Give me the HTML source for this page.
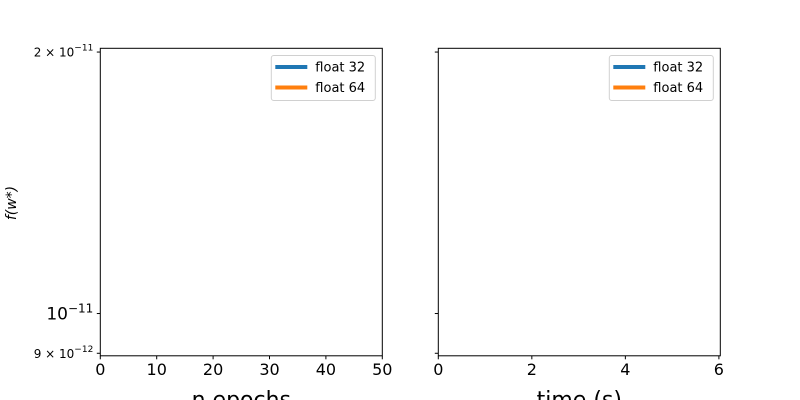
<!DOCTYPE html>
<html><head><meta charset="utf-8"><style>
html,body{margin:0;padding:0;background:#fff;width:800px;height:400px;overflow:hidden}
svg text{font-family:"DejaVu Sans","Liberation Sans",sans-serif;fill:#000}
</style></head><body>
<svg id="chart" width="800" height="400" xmlns="http://www.w3.org/2000/svg"></svg>
<script>
const leftXTicks = [0, 10, 20, 30, 40, 50];
const rightXTicks = [0, 2, 4, 6];
const yTicks = [2e-11, 1e-11, 9e-12];
const yTickLabels = [["2", "−11"], ["10", "−11"], ["9", "−12"]];
const seriesNames = ["float 32", "float 64"];
const seriesColors = ["#1f77b4", "#ff7f0e"];
const float32Epochs = [];
const float64Epochs = [];
const float32Time = [];
const float64Time = [];
const leftXDomain = [0, 50];
const rightXDomain = [0, 6.03];
const yDomain = [8.94e-12, 2.02e-11];

const svg = document.getElementById('chart');
const NS = 'http://www.w3.org/2000/svg';
function mk(tag, attrs, parent) {
  const e = document.createElementNS(NS, tag);
  for (const k in attrs) e.setAttribute(k, attrs[k]);
  (parent || svg).appendChild(e);
  return e;
}
const axTop = 48.3, axBottom = 355.8;
function yScale(v) {
  const l0 = Math.log10(yDomain[0]), l1 = Math.log10(yDomain[1]);
  return axBottom - (Math.log10(v) - l0) / (l1 - l0) * (axBottom - axTop);
}
function drawPanel(name, x0, x1, xDomain, xTicks, xLabel, showYLabels, s32, s64) {
  const g = mk('g', {});
  
  
  const xs = v => x0 + (v - xDomain[0]) / (xDomain[1] - xDomain[0]) * (x1 - x0);
  [s32, s64].forEach((s, i) => {
    if (!s.length) return;
    const pts = s.map(p => xs(p[0]) + ',' + yScale(p[1])).join(' ');
    const pl = mk('polyline', {points: pts, fill: 'none', stroke: seriesColors[i], 'stroke-width': 3}, g);
    
    
  });
  const frame = mk('rect', {x: x0, y: axTop, width: x1 - x0, height: axBottom - axTop, fill: 'none', stroke: '#000', 'stroke-width': 1}, g);
  
  
  xTicks.forEach(t => {
    const x = xs(t);
    mk('line', {x1: x, x2: x, y1: axBottom, y2: axBottom + 3.5, stroke: '#000'}, g);
    const tx = mk('text', {x: x, y: axBottom + 19, 'font-size': 16, 'text-anchor': 'middle'}, g);
    tx.textContent = t;
    
    
  });
  const xl = mk('text', {x: (x0 + x1) / 2, y: 407, 'font-size': 22, 'text-anchor': 'middle'}, g);
  xl.textContent = xLabel;
  
  
  yTicks.forEach((t, i) => {
    const y = yScale(t);
    mk('line', {x1: x0 - 3.5, x2: x0, y1: y, y2: y, stroke: '#000'}, g);
    if (showYLabels) {
      const big = i === 1;
      const tx = mk('text', {x: x0 - 7, y: y + (big ? 6 : 4.5), 'font-size': big ? 17 : 12, 'text-anchor': 'end'}, g);
      
      
      const base = big ? yTickLabels[i][0] : yTickLabels[i][0] + ' × 10';
      const s1 = mk('tspan', {}, tx); s1.textContent = base;
      const s2 = mk('tspan', {dy: big ? -7 : -6, 'font-size': big ? 12 : 9}, tx); s2.textContent = yTickLabels[i][1];
    }
  });
  const lg = mk('g', {}, g);
  
  
  const lx = x1 - 111;
  mk('rect', {x: lx, y: 55.5, width: 104, height: 45, rx: 2.5, fill: '#fff', stroke: '#d0d0d0'}, lg);
  seriesNames.forEach((n, i) => {
    const yy = 67 + i * 20.5;
    const ln = mk('line', {x1: lx + 4, x2: lx + 36, y1: yy, y2: yy, stroke: seriesColors[i], 'stroke-width': 4}, lg);
    
    
    const t = mk('text', {x: lx + 44, y: yy + 4.5, 'font-size': 13}, lg);
    t.textContent = n;
    
    
  });
}
drawPanel('epochs-panel', 100.3, 382.3, leftXDomain, leftXTicks, 'n epochs', true, float32Epochs, float64Epochs);
drawPanel('time-panel', 438.3, 720.3, rightXDomain, rightXTicks, 'time (s)', false, float32Time, float64Time);
const yl = mk('text', {x: 0, y: 0, 'font-size': 14, 'text-anchor': 'middle', 'font-style': 'italic', transform: 'translate(16,203) rotate(-90)'});
yl.textContent = 'f(w*)';


</script>
</body></html>
